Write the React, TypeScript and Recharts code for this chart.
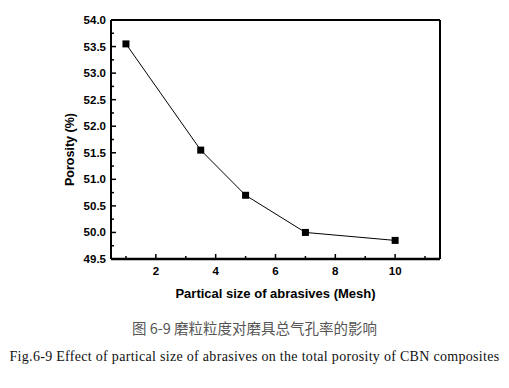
import React from 'react';
import { LineChart, Line, XAxis, YAxis, ReferenceLine, Label } from 'recharts';

const meshSizes = [1, 3.5, 5, 7, 10];
const porosity = [53.55, 51.55, 50.7, 50.0, 49.85];

const xTicks = [1, 2, 3, 4, 5, 6, 7, 8, 9, 10, 11];
const yTicks = [49.5, 49.75, 50, 50.25, 50.5, 50.75, 51, 51.25, 51.5, 51.75, 52, 52.25, 52.5, 52.75, 53, 53.25, 53.5, 53.75, 54];

const xTitle = 'Partical size of abrasives (Mesh)';
const yTitle = 'Porosity (%)';
const captionCn = '图 6-9 磨粒粒度对磨具总气孔率的影响';
const captionEn = 'Fig.6-9 Effect of partical size of abrasives on the total porosity of CBN composites';

const data = meshSizes.map((m, i) => ({ mesh: m, porosity: porosity[i] }));

const PLOT_LEFT = 111;
const PLOT_BOTTOM = 259;
const FONT = '"Liberation Sans", Arial, sans-serif';

const YTick = (props: any) => {
  const { y, payload } = props;
  const v = payload.value;
  const major = Math.abs(v * 2 - Math.round(v * 2)) < 1e-6;
  return (
    <g>
      <line x1={PLOT_LEFT} x2={PLOT_LEFT + (major ? 5 : 3)} y1={y} y2={y} stroke="#000" strokeWidth={1.5} />
      {major && (
        <text x={PLOT_LEFT - 5} y={y} dy={4} textAnchor="end" fontFamily={FONT} fontWeight="bold" fontSize={11.5} fill="#000">
          {v.toFixed(1)}
        </text>
      )}
    </g>
  );
};

const XTick = (props: any) => {
  const { x, payload } = props;
  const v = payload.value;
  const major = v % 2 === 0;
  return (
    <g>
      <line x1={x} x2={x} y1={PLOT_BOTTOM} y2={PLOT_BOTTOM - (major ? 5 : 3)} stroke="#000" strokeWidth={1.5} />
      {major && (
        <text x={x} y={PLOT_BOTTOM + 16} textAnchor="middle" fontFamily={FONT} fontWeight="bold" fontSize={11.5} fill="#000">
          {v}
        </text>
      )}
    </g>
  );
};

const SquareDot = (props: any) => {
  const { cx, cy } = props;
  return <rect x={cx - 3.5} y={cy - 3.5} width={7} height={7} fill="#000" />;
};

const YTitle = (props: any) => {
  const { viewBox } = props;
  const x = viewBox.x + 70;
  const y = viewBox.y + viewBox.height / 2 + 10;
  return (
    <text x={x} y={y} transform={`rotate(-90 ${x} ${y})`} textAnchor="middle" dominantBaseline="central"
      fontFamily={FONT} fontWeight="bold" fontSize={12.5} fill="#000">
      {yTitle}
    </text>
  );
};

const XTitle = (props: any) => {
  const { viewBox } = props;
  return (
    <text x={viewBox.x + viewBox.width / 2} y={PLOT_BOTTOM + 39} textAnchor="middle"
      fontFamily={FONT} fontWeight="bold" fontSize={13} fill="#000">
      {xTitle}
    </text>
  );
};

export default function App() {
  return (
    <div style={{ position: 'absolute', left: 0, top: 0, width: 509, height: 388, background: '#fff' }}>
      <LineChart width={509} height={310} data={data} margin={{ top: 20, right: 69, bottom: 11, left: 0 }}>
        <XAxis dataKey="mesh" type="number" domain={[0.5, 11.5]} ticks={xTicks} interval={0}
          height={40} tick={<XTick />} tickLine={false} axisLine={{ stroke: '#000', strokeWidth: 2.5 }}>
          <Label content={<XTitle />} />
        </XAxis>
        <YAxis type="number" domain={[49.5, 54]} ticks={yTicks} interval={0} width={111}
          tick={<YTick />} tickLine={false} axisLine={{ stroke: '#000', strokeWidth: 2 }}>
          <Label content={<YTitle />} />
        </YAxis>
        <ReferenceLine y={54} stroke="#000" strokeWidth={2} />
        <ReferenceLine x={11.5} stroke="#000" strokeWidth={2} />
        <Line dataKey="porosity" type="linear" stroke="#000" strokeWidth={1} dot={<SquareDot />}
          isAnimationActive={false} />
      </LineChart>
      <div style={{ position: 'absolute', left: 0, top: 319, width: 509, textAlign: 'center',
        fontFamily: '"Noto Sans CJK SC", sans-serif', fontSize: 14.5, color: '#555', lineHeight: '18px' }}>
        {captionCn}
      </div>
      <div style={{ position: 'absolute', left: 0, top: 348, width: 509, textAlign: 'center',
        fontFamily: '"Liberation Serif", "Times New Roman", serif', fontSize: 14, letterSpacing: 0.3, color: '#111', lineHeight: '18px', whiteSpace: 'nowrap' }}>
        {captionEn}
      </div>
    </div>
  );
}
